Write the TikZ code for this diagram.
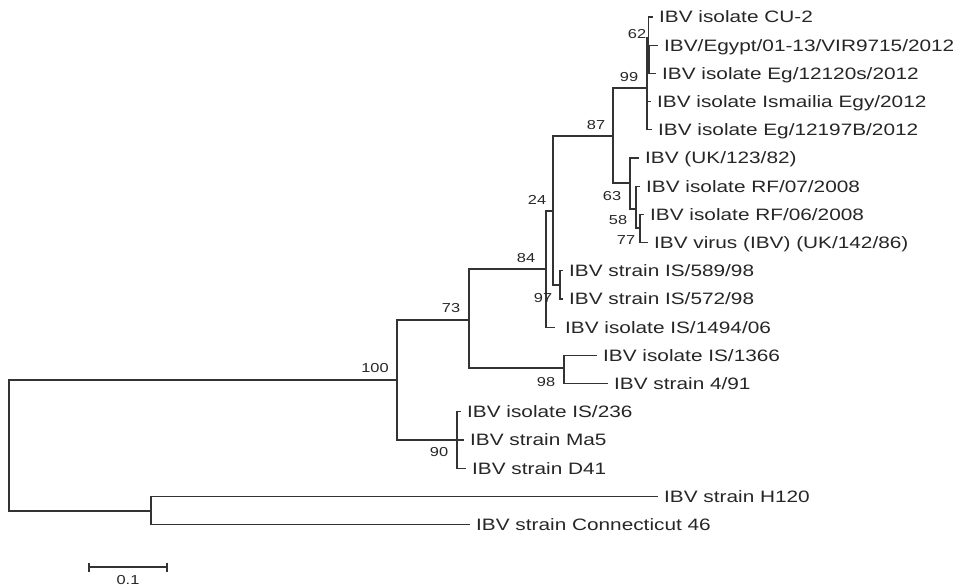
\documentclass[tikz,border=0pt]{standalone}
\usepackage{fontspec}
\setmainfont{Liberation Sans}[FakeStretch=1.26]
\begin{document}
\begin{tikzpicture}[x=1pt,y=-1pt,
  br/.style={draw=black!80, line width=1.3pt, line cap=rect},
  leaf/.style={anchor=west, inner sep=0pt, xshift=7pt, text height=11.8pt, text depth=0pt,
    font=\fontsize{16.5}{18}\selectfont, text=black!85},
  bs/.style={inner sep=0pt, text height=9.3pt, text depth=0pt,
    font=\fontsize{13}{15}\selectfont, text=black!85}]
\useasboundingbox (0,0) rectangle (958,587);
% internal nodes
\coordinate (root) at (9,445);
\coordinate (n100) at (397,380);
\coordinate (nH) at (151,511);
\coordinate (n73) at (469,320);
\coordinate (n90) at (457,440);
\coordinate (n84) at (546,269);
\coordinate (n98) at (564,368);
\coordinate (n24) at (553,211);
\coordinate (n97) at (560,285);
\coordinate (n87) at (613,136);
\coordinate (n99) at (647,88);
\coordinate (n62) at (648.5,38);
\coordinate (nSub) at (648.5,59);
\coordinate (n63) at (630,183);
\coordinate (n58) at (636,209);
\coordinate (n77) at (640,228);
% leaf tips
\coordinate (l0) at (652,17);
\coordinate (l1) at (657,45.2);
\coordinate (l2) at (655,73.4);
\coordinate (l3) at (650,101.6);
\coordinate (l4) at (651,129.8);
\coordinate (l5) at (638,158);
\coordinate (l6) at (639,186.2);
\coordinate (l7) at (643,214.4);
\coordinate (l8) at (647,242.6);
\coordinate (l9) at (562,270.8);
\coordinate (l10) at (562,299);
\coordinate (l11) at (554,327.2);
\coordinate (l12) at (596,355.4);
\coordinate (l13) at (607,383.6);
\coordinate (l14) at (460,411.8);
\coordinate (l15) at (463,440);
\coordinate (l16) at (465,468.2);
\coordinate (l17) at (657,496.4);
\coordinate (l18) at (469,524.6);
% branches
\draw[br] (root) |- (n100);
\draw[br] (root) |- (nH);
\draw[br] (n100) |- (n73);
\draw[br] (n100) |- (n90);
\draw[br] (n73) |- (n84);
\draw[br] (n73) |- (n98);
\draw[br] (n84) |- (n24);
\draw[br] (n84) |- (l11);
\draw[br] (n24) |- (n87);
\draw[br] (n24) |- (n97);
\draw[br] (n87) |- (n99);
\draw[br] (n87) |- (n63);
\draw[br] (n99) |- (n62);
\draw[br] (n99) |- (l3);
\draw[br] (n99) |- (l4);
\draw[br] (n62) |- (l0);
\draw[br] (n62) |- (nSub);
\draw[br] (nSub) |- (l1);
\draw[br] (nSub) |- (l2);
\draw[br, line width=2.6pt, line cap=butt] (nSub |- l1) -- (nSub |- l2);
\draw[br] (n63) |- (l5);
\draw[br] (n63) |- (n58);
\draw[br] (n58) |- (l6);
\draw[br] (n58) |- (n77);
\draw[br] (n77) |- (l7);
\draw[br] (n77) |- (l8);
\draw[br] (n97) |- (l9);
\draw[br] (n97) |- (l10);
\draw[br] (n98) |- (l12);
\draw[br] (n98) |- (l13);
\draw[br] (n90) |- (l14);
\draw[br] (n90) |- (l15);
\draw[br] (n90) |- (l16);
\draw[br] (nH) |- (l17);
\draw[br] (nH) |- (l18);
% leaf labels
\node[leaf] (t0) at (l0) {IBV isolate CU-2};
\node[leaf] (t1) at (l1) {IBV/Egypt/01-13/VIR9715/2012};
\node[leaf] (t2) at (l2) {IBV isolate Eg/12120s/2012};
\node[leaf] (t3) at (l3) {IBV isolate Ismailia Egy/2012};
\node[leaf] (t4) at (l4) {IBV isolate Eg/12197B/2012};
\node[leaf] (t5) at (l5) {IBV (UK/123/82)};
\node[leaf] (t6) at (l6) {IBV isolate RF/07/2008};
\node[leaf] (t7) at (l7) {IBV isolate RF/06/2008};
\node[leaf] (t8) at (l8) {IBV virus (IBV) (UK/142/86)};
\node[leaf] (t9) at (l9) {IBV strain IS/589/98};
\node[leaf] (t10) at (l10) {IBV strain IS/572/98};
\node[leaf, xshift=4pt] (t11) at (l11) {IBV isolate IS/1494/06};
\node[leaf] (t12) at (l12) {IBV isolate IS/1366};
\node[leaf] (t13) at (l13) {IBV strain 4/91};
\node[leaf] (t14) at (l14) {IBV isolate IS/236};
\node[leaf] (t15) at (l15) {IBV strain Ma5};
\node[leaf] (t16) at (l16) {IBV strain D41};
\node[leaf] (t17) at (l17) {IBV strain H120};
\node[leaf] (t18) at (l18) {IBV strain Connecticut 46};
% bootstrap values
\node[bs] (b62) at (637,34) {62};
\node[bs] (b99) at (629,77) {99};
\node[bs] (b87) at (596,125) {87};
\node[bs] (b24) at (537,200) {24};
\node[bs] (b63) at (612,196) {63};
\node[bs] (b58) at (618,220) {58};
\node[bs] (b77) at (626,240) {77};
\node[bs] (b84) at (526,258) {84};
\node[bs] (b97) at (543,298) {97};
\node[bs] (b73) at (451,308) {73};
\node[bs] (b98) at (546,382) {98};
\node[bs] (b100) at (375,368) {100};
\node[bs] (b90) at (439,452) {90};
% scale bar
\coordinate (s1) at (89,567);
\coordinate (s2) at (167,567);
\draw[br, line cap=butt] (s1) -- (s2);
\draw[br, line cap=butt] ([yshift=4.5pt]s1) -- ([yshift=-4.5pt]s1);
\draw[br, line cap=butt] ([yshift=4.5pt]s2) -- ([yshift=-4.5pt]s2);
\node[bs] (sl) at (128,580) {0.1};
\end{tikzpicture}
\end{document}
